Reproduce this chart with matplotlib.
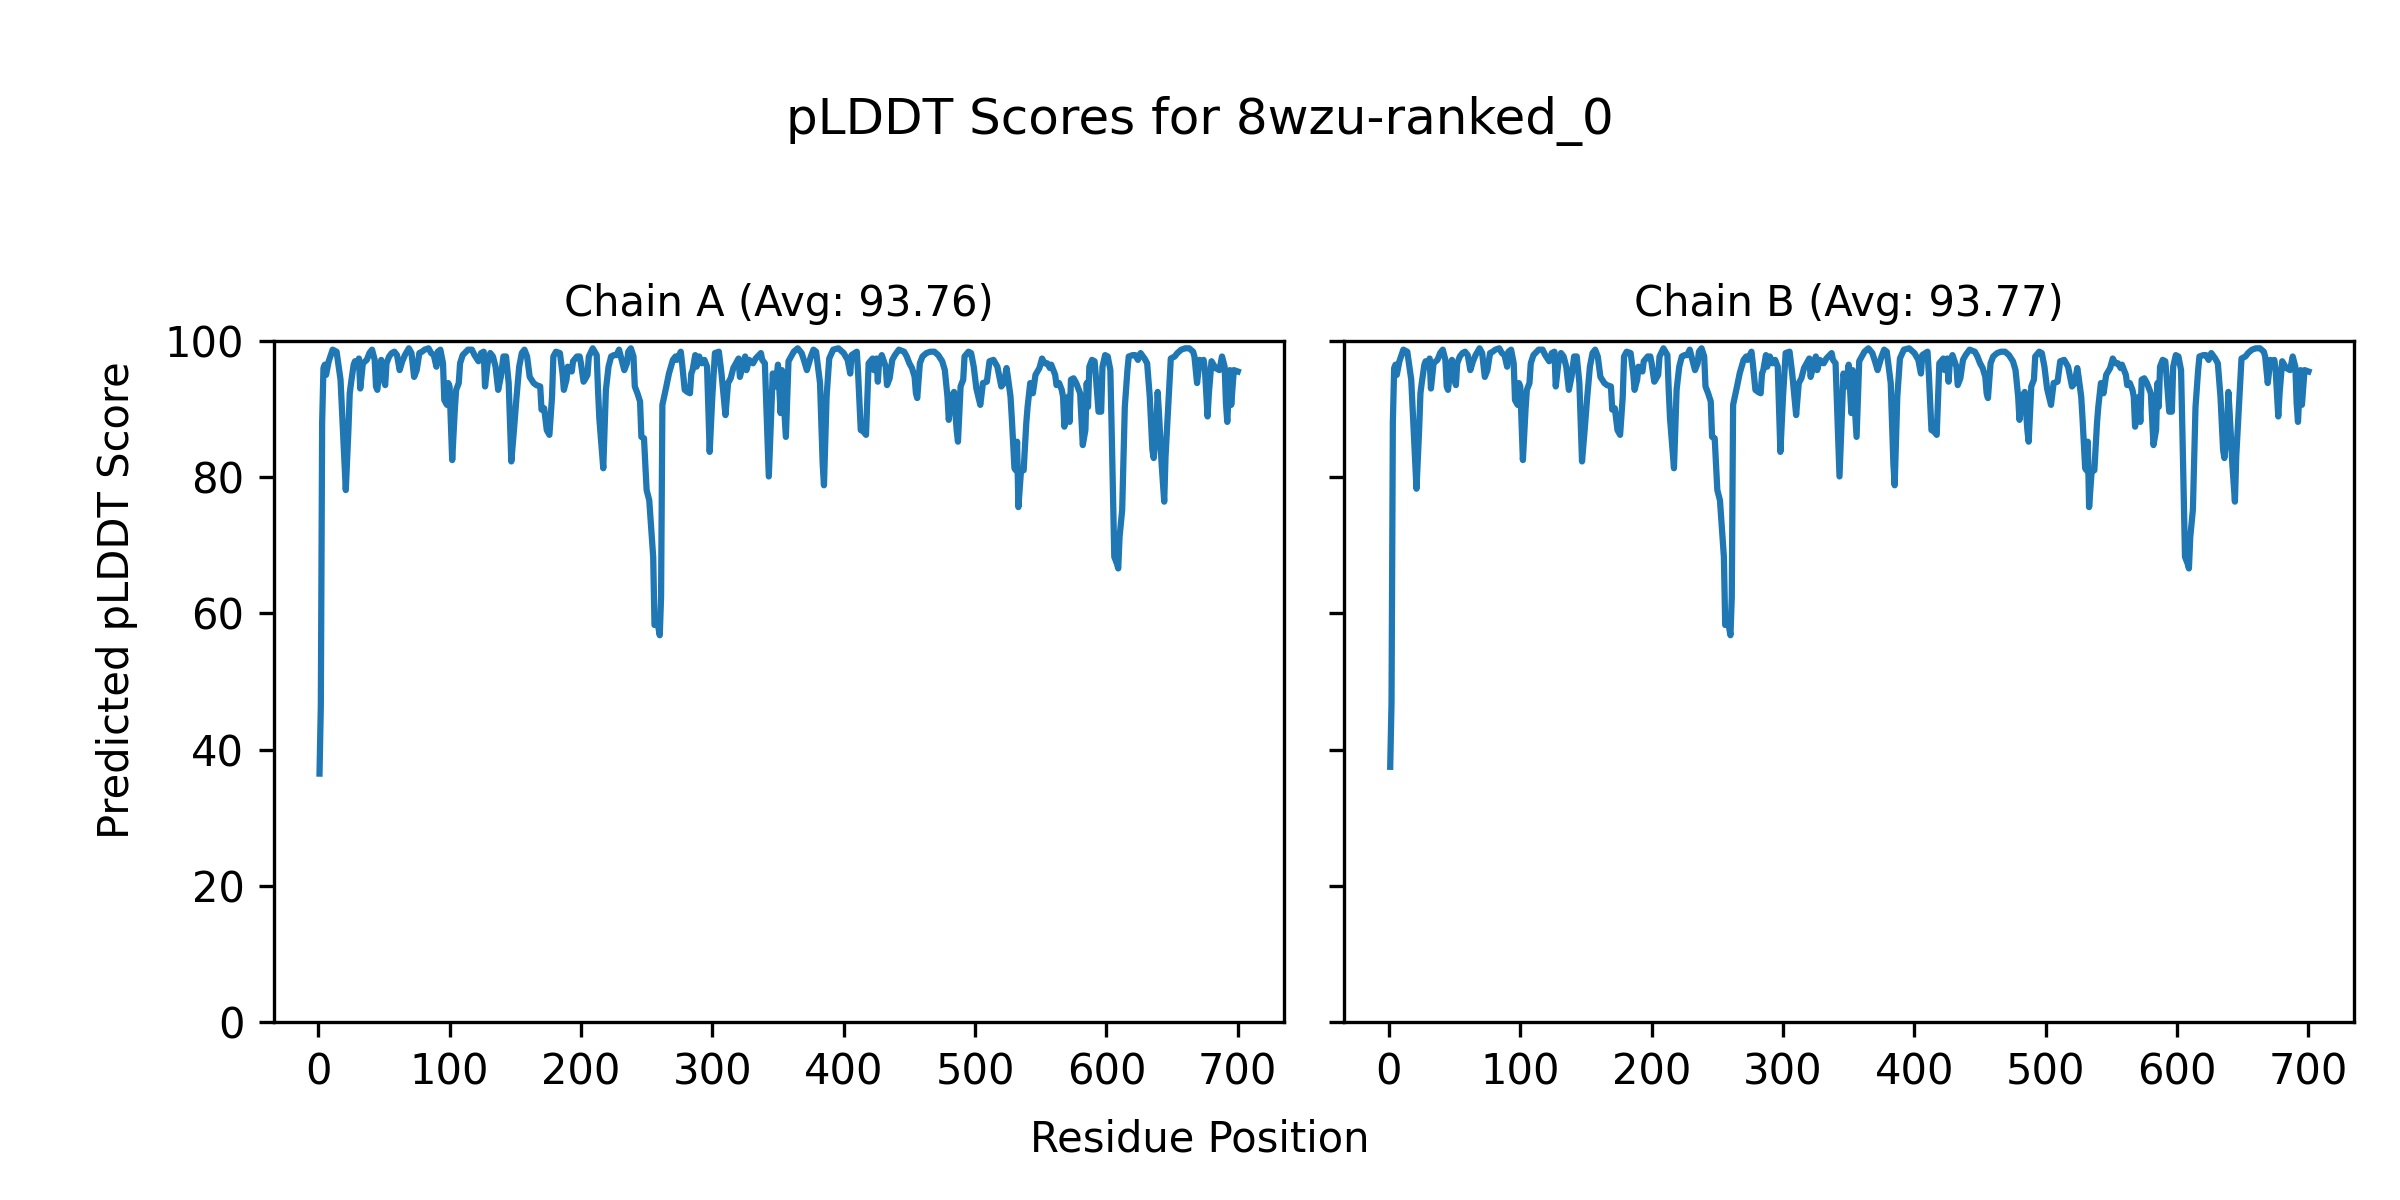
import matplotlib
matplotlib.use("Agg")
import matplotlib.pyplot as plt

# pLDDT, residue positions (1-based) and scores
residues = [
    1, 2, 3, 4, 5, 6, 8, 11, 14, 15, 17, 21, 23, 24, 25, 27, 28, 30, 31, 32,
    34, 37, 39, 41, 43, 44, 45, 47, 48, 50, 51, 52, 54, 56, 58, 60, 62, 64, 66, 69,
    71, 73, 75, 77, 79, 81, 84, 86, 88, 90, 91, 93, 95, 96, 98, 99, 100, 102, 104, 105,
    107, 108, 110, 114, 117, 119, 122, 124, 126, 127, 129, 131, 133, 135, 137, 139, 141, 143, 145, 147,
    149, 151, 153, 155, 157, 159, 161, 164, 166, 169, 170, 172, 174, 176, 178, 179, 181, 184, 186, 187,
    189, 190, 193, 194, 197, 199, 200, 202, 203, 205, 206, 209, 212, 213, 214, 217, 219, 221, 223, 225,
    227, 229, 231, 233, 235, 236, 238, 240, 241, 243, 245, 246, 248, 250, 252, 254, 255, 256, 258, 260,
    261, 262, 265, 267, 270, 272, 273, 276, 277, 279, 281, 283, 284, 285, 287, 288, 290, 292, 294, 296,
    298, 300, 302, 305, 307, 310, 312, 314, 316, 318, 320, 321, 323, 325, 326, 328, 331, 333, 337, 338,
    340, 343, 346, 348, 350, 352, 353, 356, 358, 360, 362, 365, 368, 370, 372, 375, 377, 379, 382, 384,
    385, 387, 389, 392, 396, 400, 403, 405, 406, 410, 411, 413, 415, 417, 419, 422, 423, 425, 426, 427,
    429, 432, 433, 435, 437, 439, 442, 446, 448, 450, 452, 454, 455, 456, 458, 460, 463, 466, 469, 472,
    475, 477, 479, 480, 482, 484, 486, 487, 489, 491, 492, 495, 497, 499, 501, 504, 506, 509, 511, 514,
    517, 520, 522, 524, 525, 527, 528, 530, 531, 532, 533, 535, 537, 539, 540, 542, 544, 546, 549, 551,
    553, 555, 557, 558, 561, 562, 564, 566, 567, 568, 570, 571, 572, 573, 575, 577, 578, 580, 582, 584,
    585, 586, 587, 589, 591, 592, 594, 596, 597, 599, 601, 603, 604, 606, 608, 609, 610, 612, 614, 616,
    617, 620, 622, 624, 626, 629, 631, 633, 635, 636, 638, 639, 640, 642, 644, 645, 647, 649, 652, 654,
    657, 660, 663, 666, 667, 669, 671, 672, 674, 675, 677, 678, 680, 683, 686, 688, 690, 691, 692, 694,
    695, 697, 700,
]

chain_a_scores = [
    36.5, 46.5, 88.0, 96.0, 96.5, 95.0, 97.0, 98.7, 98.4, 97.0, 94.3, 78.1, 86.9, 92.3, 93.8, 96.5, 97.0, 96.2, 97.4, 93.0,
    96.7, 97.2, 98.2, 98.7, 97.2, 93.3, 92.8, 96.2, 97.2, 94.3, 93.5, 96.7, 97.7, 98.2, 98.4, 97.9, 95.7, 97.0, 97.9, 98.9,
    98.2, 94.7, 95.7, 98.2, 98.4, 98.7, 98.9, 98.2, 97.9, 96.2, 98.4, 98.7, 96.7, 91.3, 90.6, 93.8, 93.3, 82.5, 89.9, 92.8,
    93.8, 96.7, 97.9, 98.7, 98.7, 97.9, 97.0, 98.2, 98.4, 93.3, 96.7, 98.2, 97.7, 96.2, 92.8, 94.7, 97.7, 97.7, 93.8, 82.3,
    86.9, 91.8, 96.2, 98.2, 98.7, 97.7, 94.7, 93.8, 93.5, 93.3, 89.9, 90.1, 86.9, 86.2, 91.8, 97.7, 98.4, 98.2, 95.2, 92.8,
    94.3, 96.2, 95.5, 97.0, 97.7, 97.7, 96.7, 94.0, 94.3, 95.0, 97.7, 98.9, 97.9, 92.8, 88.6, 81.3, 92.8, 96.2, 97.7, 97.9,
    97.9, 98.7, 97.2, 95.7, 96.7, 98.4, 98.9, 97.7, 93.3, 92.3, 91.1, 85.9, 85.7, 78.1, 76.6, 71.2, 68.3, 58.3, 59.0, 56.8,
    62.4, 90.6, 93.3, 95.2, 97.2, 97.7, 97.2, 98.4, 96.7, 92.8, 92.5, 92.3, 95.2, 95.7, 97.9, 96.2, 97.7, 96.7, 97.2, 96.2,
    83.7, 91.8, 98.2, 98.4, 95.2, 89.1, 93.8, 94.5, 96.0, 96.7, 97.4, 94.7, 96.2, 97.7, 95.7, 97.2, 96.7, 97.4, 98.2, 97.2,
    96.7, 80.1, 95.2, 93.3, 96.5, 89.4, 95.7, 85.9, 97.0, 97.7, 98.4, 98.9, 98.2, 97.0, 95.7, 97.7, 98.7, 98.4, 93.8, 82.0,
    78.8, 91.8, 97.4, 98.7, 98.9, 98.2, 97.2, 95.2, 97.9, 98.4, 95.2, 86.9, 86.7, 86.2, 96.7, 97.4, 95.7, 97.4, 94.0, 97.0,
    97.9, 96.2, 93.5, 94.5, 97.2, 97.9, 98.7, 98.4, 97.7, 96.7, 96.0, 94.7, 92.3, 91.6, 96.7, 97.7, 98.2, 98.4, 98.4, 97.9,
    97.0, 95.7, 91.8, 88.4, 91.8, 92.5, 86.9, 85.2, 93.3, 94.3, 97.7, 98.4, 98.2, 96.2, 93.0, 90.6, 93.8, 94.0, 97.0, 97.2,
    96.2, 93.3, 93.8, 96.0, 94.7, 91.8, 88.6, 81.3, 81.0, 85.2, 75.6, 81.0, 81.0, 87.9, 90.3, 93.8, 92.3, 95.0, 96.0, 97.4,
    96.7, 96.7, 96.0, 96.5, 95.0, 93.5, 93.8, 92.8, 91.8, 87.4, 91.3, 91.8, 88.1, 94.3, 94.5, 93.8, 93.3, 92.3, 84.7, 86.9,
    93.8, 90.3, 96.2, 97.2, 97.0, 94.7, 89.6, 89.6, 96.2, 97.9, 97.7, 95.7, 86.9, 68.3, 67.3, 66.6, 71.2, 75.2, 90.3, 95.7,
    97.7, 97.9, 97.9, 97.2, 98.2, 97.4, 96.7, 91.8, 84.0, 82.8, 86.9, 92.5, 89.4, 82.0, 76.4, 83.0, 90.3, 97.4, 97.7, 98.2,
    98.7, 98.9, 98.9, 98.4, 97.7, 93.8, 97.2, 96.2, 97.2, 95.7, 88.9, 92.3, 97.0, 96.0, 95.7, 97.7, 96.2, 90.8, 88.1, 95.7,
    90.6, 95.7, 95.5,
]

chain_b_scores = [
    37.5, 47.0, 88.0, 96.0, 96.5, 95.0, 97.0, 98.7, 98.4, 97.0, 94.3, 78.3, 86.9, 92.3, 93.8, 96.5, 97.0, 96.2, 97.4, 93.0,
    96.7, 97.2, 98.2, 98.7, 97.2, 93.3, 92.8, 96.2, 97.2, 94.3, 93.5, 96.7, 97.7, 98.2, 98.4, 97.9, 95.7, 97.0, 97.9, 98.9,
    98.2, 94.7, 95.7, 98.2, 98.4, 98.7, 98.9, 98.2, 97.9, 96.2, 98.4, 98.7, 96.7, 91.3, 90.6, 93.8, 93.3, 82.5, 89.9, 92.8,
    93.8, 96.7, 97.9, 98.7, 98.7, 97.9, 97.0, 98.2, 98.4, 93.3, 96.7, 98.2, 97.7, 96.2, 92.8, 94.7, 97.7, 97.7, 93.8, 82.3,
    86.9, 91.8, 96.2, 98.2, 98.7, 97.7, 94.7, 93.8, 93.5, 93.3, 89.9, 90.1, 86.9, 86.2, 91.8, 97.7, 98.4, 98.2, 95.2, 92.8,
    94.3, 96.2, 95.5, 97.0, 97.7, 97.7, 96.7, 94.0, 94.3, 95.0, 97.7, 98.9, 97.9, 92.8, 88.6, 81.3, 92.8, 96.2, 97.7, 97.9,
    97.9, 98.7, 97.2, 95.7, 96.7, 98.4, 98.9, 97.7, 93.3, 92.3, 91.1, 85.9, 85.7, 78.1, 76.6, 71.2, 68.3, 58.3, 59.0, 56.8,
    62.4, 90.6, 93.3, 95.2, 97.2, 97.7, 97.2, 98.4, 96.7, 92.8, 92.5, 92.3, 95.2, 95.7, 97.9, 96.2, 97.7, 96.7, 97.2, 96.2,
    83.7, 91.8, 98.2, 98.4, 95.2, 89.1, 93.8, 94.5, 96.0, 96.7, 97.4, 94.7, 96.2, 97.7, 95.7, 97.2, 96.7, 97.4, 98.2, 97.2,
    96.7, 80.1, 95.2, 93.3, 96.5, 89.4, 95.7, 85.9, 97.0, 97.7, 98.4, 98.9, 98.2, 97.0, 95.7, 97.7, 98.7, 98.4, 93.8, 82.0,
    78.8, 91.8, 97.4, 98.7, 98.9, 98.2, 97.2, 95.2, 97.9, 98.4, 95.2, 86.9, 86.7, 86.2, 96.7, 97.4, 95.7, 97.4, 94.0, 97.0,
    97.9, 96.2, 93.5, 94.5, 97.2, 97.9, 98.7, 98.4, 97.7, 96.7, 96.0, 94.7, 92.3, 91.6, 96.7, 97.7, 98.2, 98.4, 98.4, 97.9,
    97.0, 95.7, 91.8, 88.4, 91.8, 92.5, 86.9, 85.2, 93.3, 94.3, 97.7, 98.4, 98.2, 96.2, 93.0, 90.6, 93.8, 94.0, 97.0, 97.2,
    96.2, 93.3, 93.8, 96.0, 94.7, 91.8, 88.6, 81.3, 81.0, 85.2, 75.6, 81.0, 81.0, 87.9, 90.3, 93.8, 92.3, 95.0, 96.0, 97.4,
    96.7, 96.7, 96.0, 96.5, 95.0, 93.5, 93.8, 92.8, 91.8, 87.4, 91.3, 91.8, 88.1, 94.3, 94.5, 93.8, 93.3, 92.3, 84.7, 86.9,
    93.8, 90.3, 96.2, 97.2, 97.0, 94.7, 89.6, 89.6, 96.2, 97.9, 97.7, 95.7, 86.9, 68.3, 67.3, 66.6, 71.2, 75.2, 90.3, 95.7,
    97.7, 97.9, 97.9, 97.2, 98.2, 97.4, 96.7, 91.8, 84.0, 82.8, 86.9, 92.5, 89.4, 82.0, 76.4, 83.0, 90.3, 97.4, 97.7, 98.2,
    98.7, 98.9, 98.9, 98.4, 97.7, 93.8, 97.2, 96.2, 97.2, 95.7, 88.9, 92.3, 97.0, 96.0, 95.7, 97.7, 96.2, 90.8, 88.1, 95.7,
    90.6, 95.7, 95.5,
]

chain_names = ["A", "B"]
chain_avgs = [93.76, 93.77]
model_name = "8wzu-ranked_0"


fig, axes = plt.subplots(1, 2, figsize=(8, 4), dpi=300, sharey=True)
fig.subplots_adjust(left=0.114, right=0.981, bottom=0.148, top=0.716, wspace=0.06)

for ax, name, avg, scores in zip(axes, chain_names, chain_avgs, [chain_a_scores, chain_b_scores]):
    ax.plot(residues, scores, color="tab:blue", linewidth=1.5)
    ax.set_title(f"Chain {name} (Avg: {avg:.2f})", fontsize=10)
    ax.set_ylim(0, 100)

# shared axis labels as figure text
fig.text(0.5, 0.04, "Residue Position", ha="center")
fig.text(0.04, 0.5, "Predicted pLDDT Score", va="center", rotation="vertical")
fig.suptitle(f"pLDDT Scores for {model_name}", y=0.92)

fig.savefig("out.png", dpi=300)
